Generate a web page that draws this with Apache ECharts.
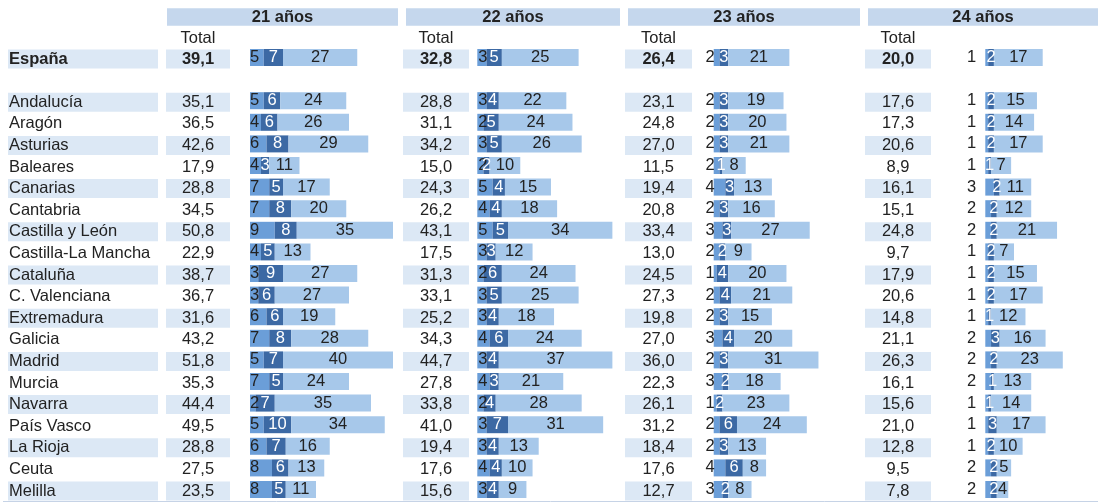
<!doctype html>
<html lang="es">
<head>
    <meta charset="UTF-8">
    <title>Edad 21-24 años por comunidad</title>
    <style>
        html, body { margin: 0; padding: 0; background: #fff; }
        #main { width: 1101px; height: 502px; }
    </style>
</head>
<body>
<div id="main"></div>
<script type="text/javascript" src="https://cdn.jsdelivr.net/npm/echarts@6/dist/echarts.min.js"></script>
<script type="text/javascript">
    // filas: España, fila vacía y las comunidades
    var regions = ['España', '', 'Andalucía', 'Aragón', 'Asturias', 'Baleares', 'Canarias', 'Cantabria',
        'Castilla y León', 'Castilla-La Mancha', 'Cataluña', 'C. Valenciana', 'Extremadura', 'Galicia',
        'Madrid', 'Murcia', 'Navarra', 'País Vasco', 'La Rioja', 'Ceuta', 'Melilla'];

    var ages = ['21 años', '22 años', '23 años', '24 años'];

    // totales
    var total21 = [39.1, null, 35.1, 36.5, 42.6, 17.9, 28.8, 34.5, 50.8, 22.9, 38.7, 36.7, 31.6, 43.2, 51.8, 35.3, 44.4, 49.5, 28.8, 27.5, 23.5];
    var total22 = [32.8, null, 28.8, 31.1, 34.2, 15.0, 24.3, 26.2, 43.1, 17.5, 31.3, 33.1, 25.2, 34.3, 44.7, 27.8, 33.8, 41.0, 19.4, 17.6, 15.6];
    var total23 = [26.4, null, 23.1, 24.8, 27.0, 11.5, 19.4, 20.8, 33.4, 13.0, 24.5, 27.3, 19.8, 27.0, 36.0, 22.3, 26.1, 31.2, 18.4, 17.6, 12.7];
    var total24 = [20.0, null, 17.6, 17.3, 20.6, 8.9, 16.1, 15.1, 24.8, 9.7, 17.9, 20.6, 14.8, 21.1, 26.3, 16.1, 15.6, 21.0, 12.8, 9.5, 7.8];

    // tramos de cada barra (a = azul medio, b = azul oscuro, c = azul claro)
    var a21 = [5, null, 5, 4, 6, 4, 7, 7, 9, 4, 3, 3, 6, 7, 5, 7, 2, 5, 6, 8, 8];
    var b21 = [7, null, 6, 6, 8, 3, 5, 8, 8, 5, 9, 6, 6, 8, 7, 5, 7, 10, 7, 6, 5];
    var c21 = [27, null, 24, 26, 29, 11, 17, 20, 35, 13, 27, 27, 19, 28, 40, 24, 35, 34, 16, 13, 11];

    var a22 = [3, null, 3, 2, 3, 2, 5, 4, 5, 3, 2, 3, 3, 4, 3, 4, 2, 3, 3, 4, 3];
    var b22 = [5, null, 4, 5, 5, 2, 4, 4, 5, 3, 6, 5, 4, 6, 4, 3, 4, 7, 4, 4, 4];
    var c22 = [25, null, 22, 24, 26, 10, 15, 18, 34, 12, 24, 25, 18, 24, 37, 21, 28, 31, 13, 10, 9];

    var a23 = [2, null, 2, 2, 2, 2, 4, 2, 3, 2, 1, 2, 2, 3, 2, 3, 1, 2, 2, 4, 3];
    var b23 = [3, null, 3, 3, 3, 1, 3, 3, 3, 2, 4, 4, 3, 4, 3, 2, 2, 6, 3, 6, 2];
    var c23 = [21, null, 19, 20, 21, 8, 13, 16, 27, 9, 20, 21, 15, 20, 31, 18, 23, 24, 13, 8, 8];

    var a24 = [1, null, 1, 1, 1, 1, 3, 2, 2, 1, 1, 1, 1, 2, 2, 2, 1, 1, 1, 2, 2];
    var b24 = [2, null, 2, 2, 2, 1, 2, 2, 2, 2, 2, 2, 1, 3, 2, 1, 1, 3, 2, 2, 2];
    var c24 = [17, null, 15, 14, 17, 7, 11, 12, 21, 7, 15, 17, 12, 16, 23, 13, 14, 17, 10, 5, 4];

    var totals = [total21, total22, total23, total24];
    var segs = [[a21, b21, c21], [a22, b22, c22], [a23, b23, c23], [a24, b24, c24]];

    // posiciones de cada bloque
    var panels = [
        {head: [167, 398], tot: [166, 230], bar: 250, scale: 2.75, max: 54, lab: {position: 'insideLeft', distance: 0}},
        {head: [406, 620], tot: [403, 469], bar: 477.3, scale: 3.07, max: 46, lab: {position: 'insideLeft', distance: 1}},
        {head: [628, 860], tot: [625, 692], bar: 713.7, scale: 2.91, max: 40, lab: {position: 'left', distance: -1}},
        {head: [868, 1098], tot: [865, 931], bar: 985.3, scale: 2.87, max: 38, lab: {position: 'left', distance: 9}}
    ];

    var rowH = 21.6;
    var gridTop = 48.2;
    var gridH = rowH * regions.length;
    var fontFamily = '"Liberation Sans", Arial, sans-serif';
    var fontSize = 16.5;
    var textColor = '#222';
    var bandColor = '#dce8f5';
    var colors = ['#6b9ed8', '#3c69a4', '#a7c8ea'];

    function fmt(v) {
        return v == null ? '' : v.toFixed(1).replace('.', ',');
    }

    var grid = [], xAxis = [], yAxis = [], series = [], graphic = [];

    function addGrid(left, width, gTop) {
        grid.push({left: left, width: width, top: gTop, height: gridH, containLabel: false, outerBoundsMode: 'none'});
        return grid.length - 1;
    }

    function hiddenY(idx, show) {
        return {
            type: 'category', gridIndex: idx, data: regions, inverse: true, show: !!show,
            axisLine: {show: false}, axisTick: {show: false}, splitLine: {show: false}
        };
    }

    // columna de nombres
    var g = addGrid(8, 150, gridTop);
    xAxis.push({type: 'value', gridIndex: g, min: 0, max: 1, show: false});
    var yl = hiddenY(g, true);
    yl.z = 10;
    yl.axisLabel = {
        inside: true, margin: 1, interval: 0, fontSize: fontSize, color: textColor, fontFamily: fontFamily,
        formatter: function (v) { return v === 'España' ? '{b|' + v + '}' : v; },
        rich: {b: {fontWeight: 'bold', fontSize: fontSize, color: textColor, fontFamily: fontFamily}}
    };
    yAxis.push(yl);
    series.push({
        type: 'bar', xAxisIndex: g, yAxisIndex: g, barWidth: 19, silent: true, z: 1,
        itemStyle: {color: bandColor},
        data: regions.map(function (r, i) { return i % 2 === 0 ? 1 : null; })
    });

    panels.forEach(function (p, k) {
        // columna de totales
        var gt = addGrid(p.tot[0], p.tot[1] - p.tot[0], gridTop);
        xAxis.push({type: 'value', gridIndex: gt, min: 0, max: 1, show: false});
        yAxis.push(hiddenY(gt));
        var tv = totals[k];
        series.push({
            type: 'bar', xAxisIndex: gt, yAxisIndex: gt, barWidth: 19, silent: true,
            data: tv.map(function (v, i) {
                if (v == null) return null;
                return {value: 1, itemStyle: {color: i % 2 === 0 ? bandColor : 'rgba(0,0,0,0)'}};
            }),
            label: {
                show: true, position: 'inside', fontSize: fontSize, color: textColor, fontFamily: fontFamily,
                formatter: function (q) {
                    var s = fmt(tv[q.dataIndex]);
                    return q.dataIndex === 0 ? '{b|' + s + '}' : s;
                },
                rich: {b: {fontWeight: 'bold', fontSize: fontSize, color: textColor, fontFamily: fontFamily}}
            }
        });

        // barras apiladas
        var gb = addGrid(p.bar, p.max * p.scale, gridTop - 1.5);
        xAxis.push({type: 'value', gridIndex: gb, min: 0, max: p.max, show: false});
        yAxis.push(hiddenY(gb));
        segs[k].forEach(function (arr, j) {
            var lab = {show: true, fontSize: fontSize, fontFamily: fontFamily, color: j === 1 ? '#fff' : textColor};
            if (j === 0) {
                lab.position = p.lab.position;
                lab.distance = p.lab.distance;
            } else {
                lab.position = 'inside';
            }
            series.push({
                type: 'bar', xAxisIndex: gb, yAxisIndex: gb, stack: 'p' + k, barWidth: 17, silent: true,
                itemStyle: {color: colors[j]},
                label: lab,
                data: arr
            });
        });

        // cabecera
        graphic.push({
            type: 'rect', shape: {x: p.head[0], y: 8.3, width: p.head[1] - p.head[0], height: 17.5},
            style: {fill: '#c5d7ed'}, silent: true
        });
        graphic.push({
            type: 'text', x: (p.head[0] + p.head[1]) / 2, y: 17.5,
            style: {text: ages[k], fill: textColor, font: 'bold ' + fontSize + 'px ' + fontFamily, align: 'center', verticalAlign: 'middle'}
        });
        graphic.push({
            type: 'text', x: (p.tot[0] + p.tot[1]) / 2, y: 38,
            style: {text: 'Total', fill: textColor, font: fontSize + 'px ' + fontFamily, align: 'center', verticalAlign: 'middle'}
        });
    });

    // línea inferior
    graphic.push({
        type: 'line', shape: {x1: 3, y1: 501.5, x2: 1098, y2: 501.5},
        style: {stroke: '#c6d3e6', lineWidth: 1}, silent: true
    });

    var myChart = echarts.init(document.getElementById('main'));
    myChart.setOption({
        animation: false,
        grid: grid,
        xAxis: xAxis,
        yAxis: yAxis,
        series: series,
        graphic: graphic
    });
</script>
</body>
</html>
